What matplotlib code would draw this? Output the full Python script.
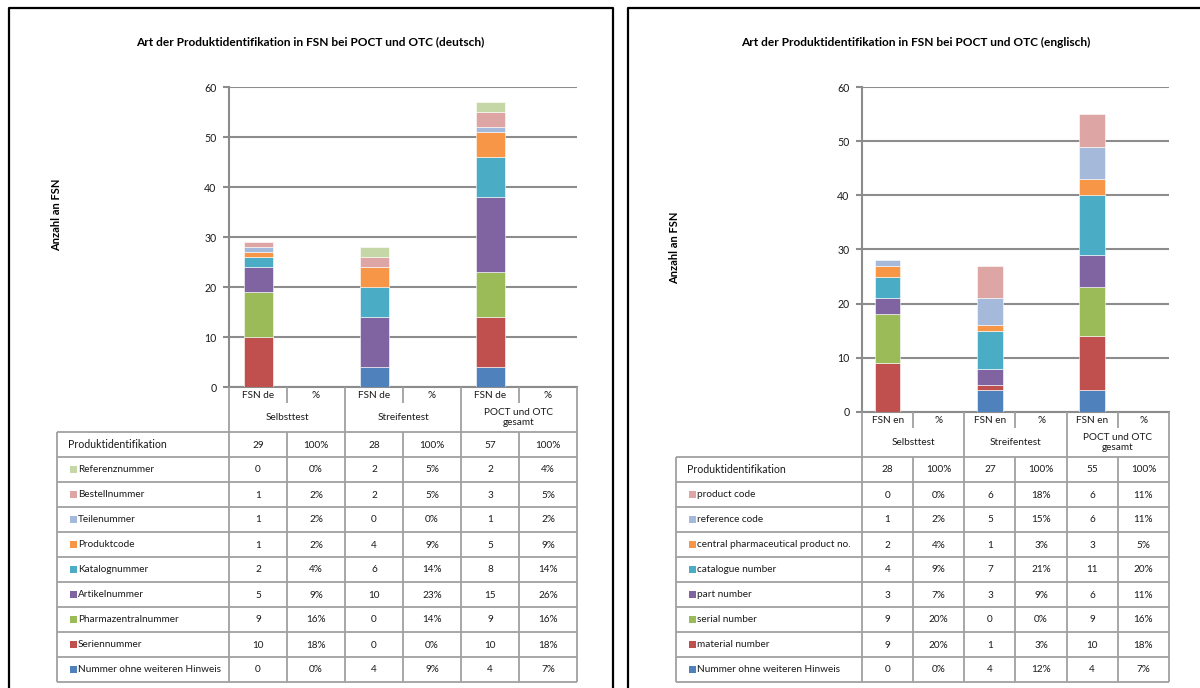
import matplotlib
matplotlib.use("Agg")
import matplotlib.pyplot as plt
from matplotlib.patches import Rectangle
from matplotlib.lines import Line2D

plt.rcParams['font.family'] = ['Lato', 'DejaVu Sans']

# ---------------- data ----------------
groups = ["Selbsttest", "Streifentest", "POCT und OTC\ngesamt"]
row_header = "Produktidentifikation"

de_title = "Art der Produktidentifikation in FSN bei POCT und OTC (deutsch)"
de_col = "FSN de"
de_categories = ["Nummer ohne weiteren Hinweis", "Seriennummer", "Pharmazentralnummer",
                 "Artikelnummer", "Katalognummer", "Produktcode", "Teilenummer",
                 "Bestellnummer", "Referenznummer"]
de_selbsttest = [0, 10, 9, 5, 2, 1, 1, 1, 0]
de_selbsttest_pct = [0, 18, 16, 9, 4, 2, 2, 2, 0]
de_streifentest = [4, 0, 0, 10, 6, 4, 0, 2, 2]
de_streifentest_pct = [9, 0, 14, 23, 14, 9, 0, 5, 5]
de_gesamt = [4, 10, 9, 15, 8, 5, 1, 3, 2]
de_gesamt_pct = [7, 18, 16, 26, 14, 9, 2, 5, 4]

en_title = "Art der Produktidentifikation in FSN bei POCT und OTC (englisch)"
en_col = "FSN en"
en_categories = ["Nummer ohne weiteren Hinweis", "material number", "serial number",
                 "part number", "catalogue number", "central pharmaceutical product no.",
                 "reference code", "product code"]
en_selbsttest = [0, 9, 9, 3, 4, 2, 1, 0]
en_selbsttest_pct = [0, 20, 20, 7, 9, 4, 2, 0]
en_streifentest = [4, 1, 0, 3, 7, 1, 5, 6]
en_streifentest_pct = [12, 3, 0, 9, 21, 3, 15, 18]
en_gesamt = [4, 10, 9, 6, 11, 3, 6, 6]
en_gesamt_pct = [7, 18, 16, 11, 20, 5, 11, 11]

y_label = "Anzahl an FSN"
y_ticks = [0, 10, 20, 30, 40, 50, 60]

colors = ["#4F81BD", "#C0504D", "#9BBB59", "#8064A2", "#4BACC6",
          "#F79646", "#A5B9DB", "#DDA5A3", "#C5D7A6"]

# ---------------- figure ----------------
W, H = 1200, 688
fig = plt.figure(figsize=(W / 100, H / 100), dpi=100)
GRID = "#8c8c8c"
TAB = "#a0a0a0"
TXT = "#1a1a1a"


def fx(x):
    return x / W


def fy(y):
    return 1 - y / H


def hline(x0, x1, y, color=TAB, lw=1.3):
    fig.add_artist(Line2D([fx(x0), fx(x1)], [fy(y), fy(y)], color=color, lw=lw,
                          transform=fig.transFigure, solid_capstyle="butt"))


def vline(x, y0, y1, color=TAB, lw=1.3):
    fig.add_artist(Line2D([fx(x), fx(x)], [fy(y0), fy(y1)], color=color, lw=lw,
                          transform=fig.transFigure, solid_capstyle="butt"))


def text(x, y, s, **kw):
    kw.setdefault("fontsize", 7.2)
    kw.setdefault("color", TXT)
    fig.text(fx(x), fy(y), s, transform=fig.transFigure, **kw)


def panel(frame, title, title_x, ylab_xy, ax_box, tab_left, sep_y, grp_y,
          categories, series, pcts, col_label):
    # outer frame
    x0, y0, x1 = frame
    fig.add_artist(Line2D([fx(x0), fx(x0), fx(x1), fx(x1)],
                          [fy(H + 5), fy(y0), fy(y0), fy(H + 5)],
                          color="black", lw=1.6, transform=fig.transFigure))
    text(title_x, 42, title, fontsize=8.6, fontweight="bold", color="black",
         ha="center", va="center")
    text(ylab_xy[0], ylab_xy[1], y_label, fontsize=8, fontweight="bold",
         color="black", rotation=90, ha="center", va="center")

    left, right, top, bottom = ax_box
    ax = fig.add_axes([fx(left), fy(bottom), fx(right) - fx(left), fy(top) - fy(bottom)])
    ax.set_xlim(-0.5, 5.5)
    ax.set_ylim(0, 60)
    ax.set_yticks(y_ticks)
    ax.yaxis.grid(True, color=GRID, lw=1.5)
    ax.set_axisbelow(True)
    ax.set_xticks([])
    for s in ("top", "right"):
        ax.spines[s].set_visible(False)
    ax.spines["left"].set_color(GRID)
    ax.spines["left"].set_linewidth(1.5)
    ax.spines["bottom"].set_color(GRID)
    ax.spines["bottom"].set_linewidth(1.5)
    ax.tick_params(axis="y", length=4, width=1.5, color=GRID, labelsize=7.6,
                   labelcolor=TXT, pad=5)

    for g, vals in enumerate(series):
        base = 0
        for k, v in enumerate(vals):
            if v > 0:
                ax.bar(2 * g, v, bottom=base, width=0.5, color=colors[k],
                       edgecolor="white", linewidth=0.4, zorder=3)
            base += v

    # table
    colw = (right - left) / 6
    cols = [left + i * colw for i in range(7)]
    n_rows = len(categories) + 1
    row_h = (682 - grp_y) / n_rows
    rows = [grp_y + i * row_h for i in range(n_rows + 1)]

    # header area
    for i, c in enumerate(cols):
        if i % 2 == 0:
            vline(c, bottom, grp_y)
        else:
            vline(c, bottom, sep_y)
    for g in range(3):
        text((cols[2 * g] + cols[2 * g + 1]) / 2, (bottom + sep_y) / 2 + 0.5, col_label,
             ha="center", va="center")
        text((cols[2 * g + 1] + cols[2 * g + 2]) / 2, (bottom + sep_y) / 2 + 0.5, "%",
             ha="center", va="center")
        text((cols[2 * g] + cols[2 * g + 2]) / 2, (sep_y + grp_y) / 2, groups[g],
             ha="center", va="center", linespacing=1.05)

    # body grid
    for r in rows:
        hline(tab_left, right, r)
    vline(tab_left, grp_y, rows[-1])
    for c in cols:
        vline(c, grp_y, rows[-1])

    totals = [sum(v) for v in series]
    cy = (rows[0] + rows[1]) / 2
    text(tab_left + 11, cy, row_header, fontsize=7.6, ha="left", va="center")
    for g in range(3):
        text((cols[2 * g] + cols[2 * g + 1]) / 2, cy + 0.5, str(totals[g]),
             ha="center", va="center")
        text((cols[2 * g + 1] + cols[2 * g + 2]) / 2, cy + 0.5, "100%",
             ha="center", va="center")

    order = list(range(len(categories)))[::-1]
    for r, k in enumerate(order):
        cy = (rows[r + 1] + rows[r + 2]) / 2
        fig.add_artist(Rectangle((fx(tab_left + 13), fy(cy + 3)), 7 / W, 7 / H,
                                 facecolor=colors[k], edgecolor="none",
                                 transform=fig.transFigure))
        text(tab_left + 21, cy, categories[k], ha="left", va="center")
        for g in range(3):
            text((cols[2 * g] + cols[2 * g + 1]) / 2, cy + 0.5, str(series[g][k]),
                 ha="center", va="center")
            text((cols[2 * g + 1] + cols[2 * g + 2]) / 2, cy + 0.5, f"{pcts[g][k]}%",
                 ha="center", va="center")


panel((8.5, 7.5, 612.5), de_title, 310, (57, 215), (229, 577, 87, 387), 57, 403, 432,
      de_categories, [de_selbsttest, de_streifentest, de_gesamt],
      [de_selbsttest_pct, de_streifentest_pct, de_gesamt_pct], de_col)

panel((627.5, 7.5, 1205), en_title, 916, (675, 248), (862, 1169, 87, 412), 676, 428, 457,
      en_categories, [en_selbsttest, en_streifentest, en_gesamt],
      [en_selbsttest_pct, en_streifentest_pct, en_gesamt_pct], en_col)

fig.savefig("out.png", dpi=100, facecolor="white")
